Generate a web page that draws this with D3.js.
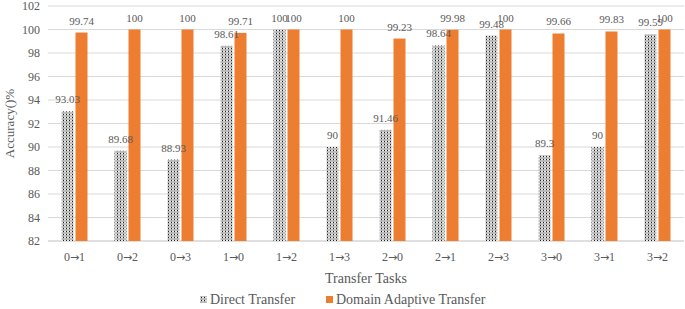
<!DOCTYPE html>
<html>
<head>
<meta charset="utf-8">
<script src="https://cdn.jsdelivr.net/npm/d3@7"></script>
<style>
  body { margin: 0; background: #fff; }
</style>
</head>
<body>
<div id="chart-area"></div>
<script>
var tasks = ["0→1", "0→2", "0→3", "1→0", "1→2", "1→3", "2→0", "2→1", "2→3", "3→0", "3→1", "3→2"]
var directTransfer = [93.03, 89.68, 88.93, 98.61, 100, 90, 91.46, 98.64, 99.48, 89.3, 90, 99.59]
var adaptiveTransfer = [99.74, 100, 100, 99.71, 100, 100, 99.23, 99.98, 100, 99.66, 99.83, 100]
var yTicks = [82, 84, 86, 88, 90, 92, 94, 96, 98, 100, 102]
var seriesNames = ["Direct Transfer", "Domain Adaptive Transfer"]

var width = 685
var height = 309
var margin = { top: 6, right: 1, left: 48 }
var plotBottom = 241

var svg = d3.select("#chart-area")
  .append("svg")
  .attr("width", width)
  .attr("height", height)
  .style("font-family", "'Liberation Serif', 'Times New Roman', serif")

// dotted fill like the excel pattern
var defs = svg.append("defs")
var pat = defs.append("pattern")
  .attr("id", "dots")
  .attr("patternUnits", "userSpaceOnUse")
  .attr("width", 3)
  .attr("height", 3)
pat.append("rect").attr("width", 3).attr("height", 3).attr("fill", "#e8e8e8")
pat.append("rect").attr("x", 0).attr("y", 0).attr("width", 1).attr("height", 1).attr("fill", "#222")
pat.append("rect").attr("x", 1.5).attr("y", 1.5).attr("width", 1).attr("height", 1).attr("fill", "#444")
pat.append("rect").attr("x", 0).attr("y", 1.5).attr("width", 1).attr("height", 1).attr("fill", "#777")

var x = d3.scaleBand()
  .domain(tasks)
  .range([margin.left, width - margin.right])

var y = d3.scaleLinear()
  .domain([82, 102])
  .range([plotBottom, margin.top])

var barW = 12
var gap = 2
var textColor = "#595959"

// gridlines
svg.append("g")
  .selectAll("line")
  .data(yTicks)
  .enter().append("line")
  .attr("x1", margin.left)
  .attr("x2", width - margin.right)
  .attr("y1", (d) => { return y(d) })
  .attr("y2", (d) => { return y(d) })
  .attr("stroke", (d) => { return d === 82 ? "#bfbfbf" : "#d9d9d9" })
  .attr("stroke-width", 1)

// y tick labels
svg.append("g")
  .selectAll("text")
  .data(yTicks)
  .enter().append("text")
  .attr("x", 40)
  .attr("y", (d) => { return y(d) + 4 })
  .attr("text-anchor", "end")
  .attr("font-size", "12px")
  .attr("fill", textColor)
  .text((d) => { return d })

// x tick labels, arrow drawn in a font with a longer arrow glyph
var xLabels = svg.append("g")
  .selectAll("text")
  .data(tasks)
  .enter().append("text")
  .attr("x", (d) => { return x(d) + x.bandwidth() / 2 })
  .attr("y", 261)
  .attr("text-anchor", "middle")
  .attr("font-size", "12px")
  .attr("fill", textColor)
xLabels.append("tspan").text((d) => { return d.split("→")[0] })
xLabels.append("tspan")
  .style("font-family", "'DejaVu Sans', sans-serif")
  .attr("font-size", "11px")
  .text("→")
xLabels.append("tspan").text((d) => { return d.split("→")[1] })

var groups = tasks.map((t, i) => {
  return { task: t, direct: directTransfer[i], adaptive: adaptiveTransfer[i] }
})

// direct transfer bars
svg.append("g")
  .selectAll("rect")
  .data(groups)
  .enter().append("rect")
  .attr("x", (d) => { return x(d.task) + x.bandwidth() / 2 - gap / 2 - barW })
  .attr("y", (d) => { return y(d.direct) })
  .attr("width", barW)
  .attr("height", (d) => { return plotBottom - y(d.direct) })
  .attr("fill", "url(#dots)")

// adaptive bars
svg.append("g")
  .selectAll("rect")
  .data(groups)
  .enter().append("rect")
  .attr("x", (d) => { return x(d.task) + x.bandwidth() / 2 + gap / 2 })
  .attr("y", (d) => { return y(d.adaptive) })
  .attr("width", barW)
  .attr("height", (d) => { return plotBottom - y(d.adaptive) })
  .attr("fill", "#ED7D31")

// data labels
svg.append("g")
  .selectAll("text")
  .data(groups)
  .enter().append("text")
  .attr("x", (d) => { return x(d.task) + x.bandwidth() / 2 - gap / 2 - barW / 2 })
  .attr("y", (d) => { return y(d.direct) - 8 })
  .attr("text-anchor", "middle")
  .attr("font-size", "11px")
  .attr("fill", textColor)
  .text((d) => { return d.direct })

svg.append("g")
  .selectAll("text")
  .data(groups)
  .enter().append("text")
  .attr("x", (d) => { return x(d.task) + x.bandwidth() / 2 + gap / 2 + barW / 2 })
  .attr("y", (d) => { return y(d.adaptive) - 8 })
  .attr("text-anchor", "middle")
  .attr("font-size", "11px")
  .attr("fill", textColor)
  .text((d) => { return d.adaptive })

// axis titles
svg.append("text")
  .attr("transform", "translate(14, " + ((margin.top + plotBottom) / 2) + ") rotate(-90)")
  .attr("text-anchor", "middle")
  .attr("font-size", "13px")
  .attr("fill", textColor)
  .text("Accuracy()%")

svg.append("text")
  .attr("x", 366)
  .attr("y", 283)
  .attr("text-anchor", "middle")
  .attr("font-size", "14px")
  .attr("fill", textColor)
  .text("Transfer Tasks")

// legend
var legend = svg.append("g")
var legendX = [200, 326]
legend.selectAll("rect")
  .data(seriesNames)
  .enter().append("rect")
  .attr("x", (d, i) => { return legendX[i] })
  .attr("y", 296)
  .attr("width", 7)
  .attr("height", 7)
  .attr("fill", (d, i) => { return i === 0 ? "url(#dots)" : "#ED7D31" })

legend.selectAll("text")
  .data(seriesNames)
  .enter().append("text")
  .attr("x", (d, i) => { return legendX[i] + 10 })
  .attr("y", 304)
  .attr("font-size", "14px")
  .attr("fill", textColor)
  .text((d) => { return d })
</script>
</body>
</html>
